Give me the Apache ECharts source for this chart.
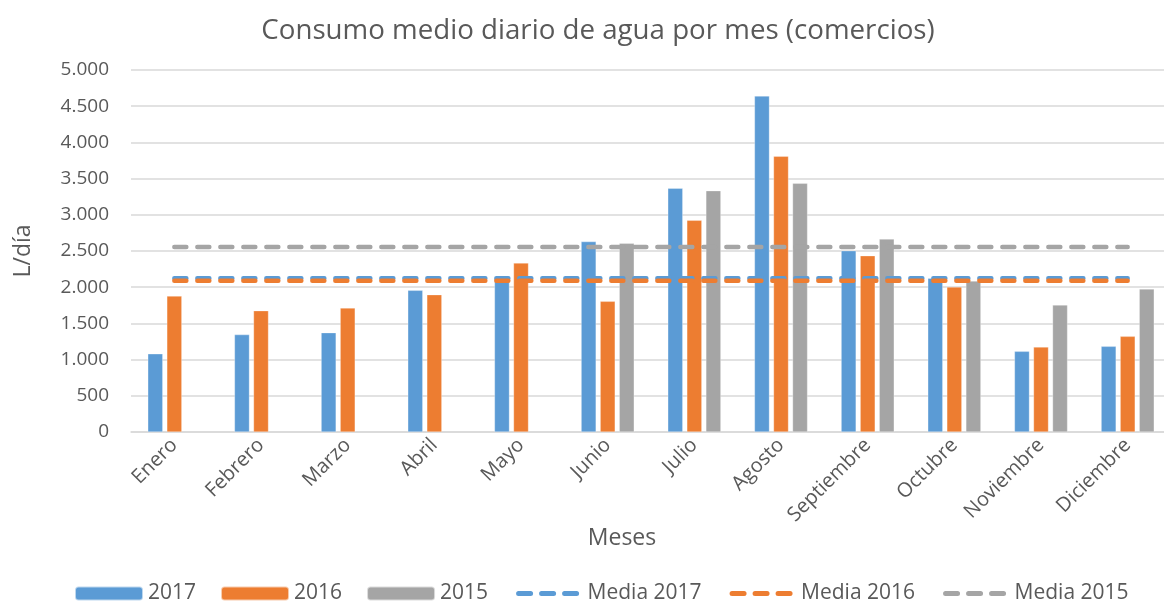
<!DOCTYPE html>
<html>
<head>
<meta charset="utf-8">
<script src="https://cdn.jsdelivr.net/npm/echarts@6/dist/echarts.min.js"></script>
<style>html,body{margin:0;padding:0;background:#fff}#c{width:1164px;height:601px}</style>
</head>
<body>
<div id="c"></div>
<script>
const months = ['Enero','Febrero','Marzo','Abril','Mayo','Junio','Julio','Agosto','Septiembre','Octubre','Noviembre','Diciembre'];
const v2017 = [1080, 1345, 1372, 1957, 2110, 2630, 3366, 4641, 2504, 2123, 1114, 1183];
const v2016 = [1878, 1676, 1713, 1897, 2334, 1805, 2924, 3808, 2435, 2003, 1174, 1321];
const v2015 = [null, null, null, null, null, 2606, 3333, 3435, 2666, 2086, 1754, 1975];
const media2017 = [2125, 2125, 2125, 2125, 2125, 2125, 2125, 2125, 2125, 2125, 2125, 2125];
const media2016 = [2088, 2088, 2088, 2088, 2088, 2088, 2088, 2088, 2088, 2088, 2088, 2088];
const media2015 = [2556, 2556, 2556, 2556, 2556, 2556, 2556, 2556, 2556, 2556, 2556, 2556];

const FONT = 'Open Sans';
const TXT = '#595959';
const chart = echarts.init(document.getElementById('c'), null, {renderer: 'canvas'});
const fmt = v => String(v).replace(/\B(?=(\d{3})+(?!\d))/g, '.');
const dashStyle = color => ({color, width: 4.5, type: [12, 11], cap: 'round'});
const dashed = (name, data, color) => ({
  name, type: 'line', data, symbol: 'none', z: 5,
  lineStyle: dashStyle(color),
  itemStyle: {color}
});
const bar = (name, data, color) => ({
  name, type: 'bar', data, barWidth: 15, barGap: '27%',
  itemStyle: {color, borderColor: 'rgba(255,255,255,0.6)', borderWidth: 0.5}
});
const legendLine = (name, color) => ({
  name, itemStyle: {opacity: 0},
  lineStyle: {color, width: 5, type: [12, 11], cap: 'round', dashOffset: -4}
});
chart.setOption({
  animation: false,
  textStyle: {fontFamily: FONT, color: TXT},
  title: {
    text: 'Consumo medio diario de agua por mes (comercios)',
    left: 593, textAlign: 'center', top: 12,
    textStyle: {fontFamily: FONT, fontSize: 27.7, fontWeight: 'normal', color: TXT}
  },
  grid: {left: 131, width: 1040, top: 70, bottom: 169, outerBoundsMode: 'none', containLabel: false},
  legend: {
    top: 578, left: 69, itemWidth: 68, itemHeight: 14, itemGap: 24,
    textStyle: {fontFamily: FONT, fontSize: 21, color: TXT},
    data: ['2017', '2016', '2015',
      legendLine('Media 2017', '#5b9bd5'),
      legendLine('Media 2016', '#ed7d31'),
      legendLine('Media 2015', '#a5a5a5')]
  },
  xAxis: {
    type: 'category', data: months,
    name: 'Meses', nameLocation: 'middle', nameGap: 95, nameMoveOverlap: false,
    nameTextStyle: {fontFamily: FONT, fontSize: 23, color: TXT, padding: [0, 58, 0, 0]},
    axisLine: {lineStyle: {color: '#d9d9d9', width: 1.5}},
    axisTick: {show: false},
    axisLabel: {rotate: 45, fontFamily: FONT, fontSize: 20, color: TXT, margin: 10, interval: 0}
  },
  yAxis: {
    type: 'value', min: 0, max: 5000, interval: 500,
    name: 'L/día', nameLocation: 'middle', nameGap: 96, nameRotate: 90,
    nameTextStyle: {fontFamily: FONT, fontSize: 23, color: TXT},
    axisLine: {show: false}, axisTick: {show: false},
    splitLine: {lineStyle: {color: '#d9d9d9', width: 1.5}},
    axisLabel: {fontFamily: FONT, fontSize: 19, color: TXT, margin: 22, formatter: fmt}
  },
  series: [
    bar('2017', v2017, '#5b9bd5'),
    bar('2016', v2016, '#ed7d31'),
    bar('2015', v2015, '#a5a5a5'),
    dashed('Media 2017', media2017, '#5b9bd5'),
    dashed('Media 2016', media2016, '#ed7d31'),
    dashed('Media 2015', media2015, '#a5a5a5')
  ]
});
</script>
</body>
</html>
